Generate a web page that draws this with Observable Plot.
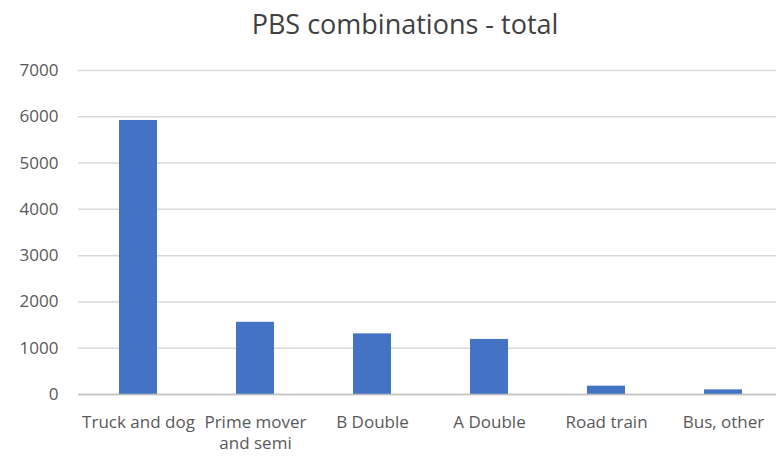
<!DOCTYPE html>
<html>
<head>
<meta charset="utf-8">
<script src="https://cdn.jsdelivr.net/npm/d3@7"></script>
<script src="https://cdn.jsdelivr.net/npm/@observablehq/plot@0.6"></script>
<style>
  body { margin: 0; background: #fff; }
  #wrap { position: relative; width: 776px; height: 456px; overflow: hidden; font-family: "Open Sans", "Noto Sans", sans-serif; }
  #title { position: absolute; top: 5px; left: 0; width: 810px; text-align: center; font-size: 27px; color: #404040; line-height: 38px; }
  #chart { position: absolute; top: 50px; left: 0; width: 784px; }
  #chart svg { max-width: none !important; }
  #chart svg text { font-size: 17px; }
</style>
</head>
<body>
<div id="wrap">
  <div id="title">PBS combinations - total</div>
  <div id="chart"></div>
</div>
<script>
const categories = ["Truck and dog", "Prime mover and semi", "B Double", "A Double", "Road train", "Bus, other"];
const values = [5920, 1560, 1310, 1190, 180, 100];
const tickLabels = ["Truck and dog", "Prime mover\nand semi", "B Double", "A Double", "Road train", "Bus, other"];
const yTicks = [0, 1000, 2000, 3000, 4000, 5000, 6000, 7000];

const data = categories.map((c, i) => ({category: c, value: values[i]}));
const labelOf = new Map(categories.map((c, i) => [c, tickLabels[i]]));

const plot = Plot.plot({
  width: 784,
  height: 406,
  marginTop: 20,
  marginBottom: 62,
  marginLeft: 78,
  marginRight: 0,
  style: {fontFamily: "'Open Sans', 'Noto Sans', sans-serif", fontSize: "17px", color: "#595959", background: "white", maxWidth: "none"},
  x: {domain: categories, paddingInner: 0.675, paddingOuter: 0.3375, label: null},
  y: {domain: [0, 7000], label: null},
  marks: [
    Plot.gridY(yTicks, {stroke: "#d9d9d9", strokeOpacity: 1, strokeWidth: 1.5}),
    Plot.barY(data, {x: "category", y: "value", fill: "#4472C4"}),
    Plot.ruleY([0], {stroke: "#bfbfbf", strokeWidth: 1.5}),
    Plot.axisY(yTicks, {tickSize: 0, tickPadding: 20, tickFormat: d => String(d), fontSize: 17, fill: "#595959"}),
    Plot.axisX({tickSize: 0, tickPadding: 18, tickFormat: d => labelOf.get(d), fontSize: 17, fill: "#595959", lineHeight: 1.25})
  ]
});
document.getElementById("chart").appendChild(plot);
</script>
</body>
</html>
